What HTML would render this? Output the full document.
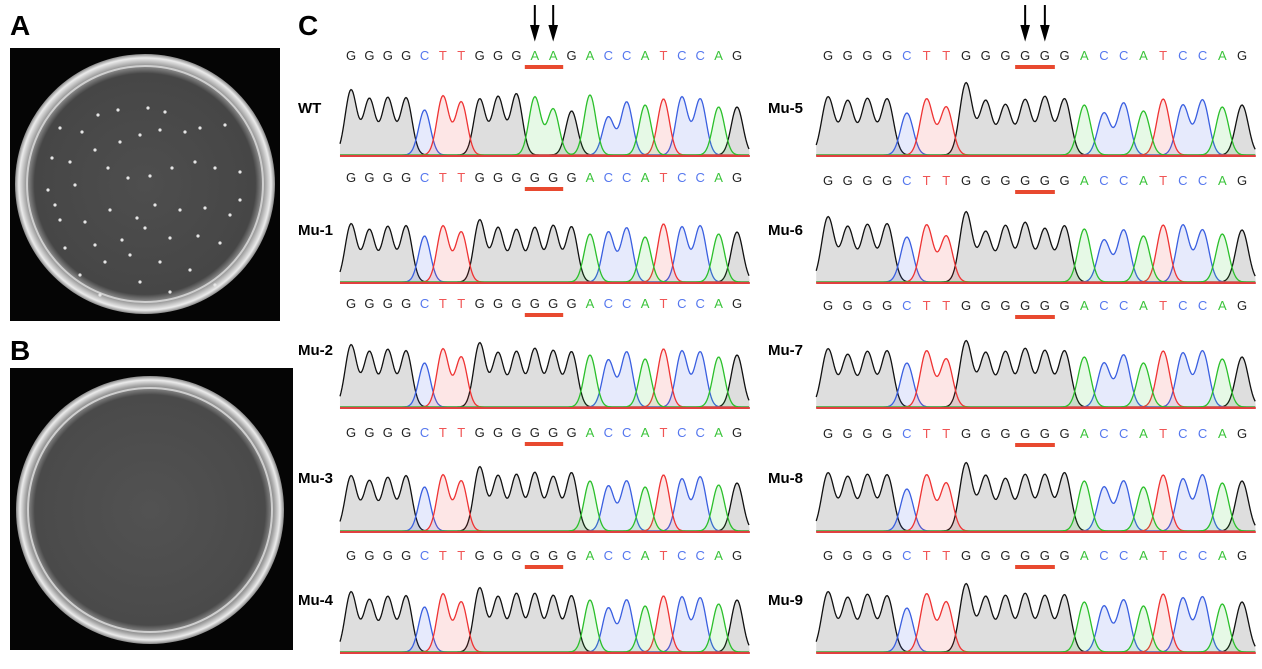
<!DOCTYPE html>
<html><head><meta charset="utf-8"><style>
body{margin:0;background:#fff;width:1262px;height:669px;overflow:hidden;font-family:"Liberation Sans",sans-serif}
svg{position:absolute;left:0;top:0}
</style></head><body>
<svg id="fig" width="1262" height="669" xmlns="http://www.w3.org/2000/svg">
<defs>
<radialGradient id="plateA" cx="50%" cy="50%" r="50%"><stop offset="0" stop-color="#4e4e4e"/><stop offset="0.85" stop-color="#464646"/><stop offset="0.92" stop-color="#a0a0a0"/><stop offset="0.97" stop-color="#ececec"/><stop offset="1" stop-color="#888"/></radialGradient>
<radialGradient id="plateB" cx="50%" cy="50%" r="50%"><stop offset="0" stop-color="#525252"/><stop offset="0.86" stop-color="#4a4a4a"/><stop offset="0.93" stop-color="#a0a0a0"/><stop offset="0.97" stop-color="#ececec"/><stop offset="1" stop-color="#888"/></radialGradient>
</defs>
<text x="10" y="35" font-size="28" font-weight="bold">A</text>
<text x="10" y="360" font-size="28" font-weight="bold">B</text>
<text x="298" y="35" font-size="28" font-weight="bold">C</text>
<g>
<rect x="10" y="48" width="270" height="273" fill="#050505"/>
<circle cx="145" cy="184" r="130" fill="url(#plateA)"/>
<circle cx="145" cy="184" r="118" fill="none" stroke="#cfcfcf" stroke-width="2"/>
<g id="dots" fill="#e6e6e6"></g>
</g>
<g>
<rect x="10" y="368" width="283" height="282" fill="#050505"/>
<circle cx="150" cy="510" r="134" fill="url(#plateB)"/>
<circle cx="150" cy="510" r="122" fill="none" stroke="#cfcfcf" stroke-width="2"/>
</g>
<g id="chroms"></g>
</svg>
<script>
const NS="http://www.w3.org/2000/svg";
const svg=document.getElementById('fig');
const wtSeq="GGGGCTTGGGAAGACCATCCAG";
const muSeq="GGGGCTTGGGGGGACCATCCAG";
const rowLabels=["WT","Mu-1","Mu-2","Mu-3","Mu-4","Mu-5","Mu-6","Mu-7","Mu-8","Mu-9"];
const hWT=[65,56,57,57,45,59,53,56,58,61,58,46,44,60,38,53,50,56,58,56,48,48];
const hMu1=[58,52,55,56,46,56,50,62,54,52,54,56,55,48,50,54,45,58,55,56,48,50];
const hMu2=[62,55,57,56,44,58,50,64,54,55,58,56,55,52,47,55,48,58,56,55,50,52];
const hMu3=[55,50,53,55,44,56,50,64,55,56,58,54,58,50,45,50,44,56,52,54,46,48];
const hMu4=[60,52,55,56,45,58,50,64,55,58,58,56,56,52,44,52,46,56,55,54,48,52];
const hMu5=[58,54,56,56,42,56,48,72,54,50,55,58,56,50,42,52,44,56,50,55,48,50];
const hMu6=[65,55,57,58,45,57,46,70,50,56,59,53,56,53,42,52,46,57,57,52,48,52];
const hMu7=[58,52,55,56,44,56,48,66,54,55,58,56,56,50,44,52,44,56,54,56,48,50];
const hMu8=[58,54,56,56,42,56,48,68,55,52,56,56,58,50,44,50,44,56,52,56,48,50];
const hMu9=[60,54,57,56,44,58,50,68,55,56,58,56,57,50,46,52,46,58,54,55,48,50];
const heights=[hWT,hMu1,hMu2,hMu3,hMu4,hMu5,hMu6,hMu7,hMu8,hMu9];
const seqY=[55,177,303,432,555,55,180,305,433,555];
const baseY=[155,282,407,531,652,155,282,407,531,652];
const labelY=[113,235,355,483,605,113,235,355,483,605];
const col={G:"#111",A:"#2bbf2b",C:"#3a5fe0",T:"#ee3333"};
const fillc={G:"rgba(0,0,0,0.13)",A:"rgba(60,210,60,0.13)",C:"rgba(60,90,230,0.13)",T:"rgba(240,60,60,0.13)"};
const txtc={G:"#222",A:"#3cc43c",C:"#5577ee",T:"#f05555"};
function el(t,a,p){const e=document.createElementNS(NS,t);for(const k in a)e.setAttribute(k,a[k]);(p||svg).appendChild(e);return e;}
const root=document.getElementById('chroms');
for(let r=0;r<10;r++){
  const right=r>=5;
  const x0=right?828:351, x1=right?1242:737;
  const dx=(x1-x0)/21;
  const seq=r==0?wtSeq:muSeq;
  const h=heights[r];
  const by=baseY[r];
  const g=el('g',{},root);
  
  
  const lab=el('text',{x:right?768:298,y:labelY[r],'font-size':15,'font-weight':'bold',fill:'#000'},g);
  
  
  lab.textContent=rowLabels[r];
  for(let i=0;i<seq.length;i++){
    const t=el('text',{x:x0+i*dx,y:seqY[r]+5,'font-size':13,'text-anchor':'middle','font-family':'Liberation Sans,sans-serif',fill:txtc[seq[i]]},g);
    
    
    t.textContent=seq[i];
  }
  const ul=el('rect',{x:x0+10*dx-10,y:seqY[r]+10,width:dx+20,height:4,fill:'#e8492f'},g);
  
  
  const sig=dx*0.32, xs=x0-dx*0.6, xe=x1+dx*0.7;
  ['G','C','T','A'].forEach(b=>{
    let pts=[];
    for(let x=xs;x<=xe;x+=1){
      let y=0;
      for(let i=0;i<seq.length;i++) if(seq[i]==b){const u=(x-(x0+i*dx))/sig;y+=h[i]*Math.exp(-0.5*u*u);}
      pts.push([x,by-Math.min(y,75)]);
    }
    const d="M"+pts.map(p=>p[0].toFixed(1)+","+p[1].toFixed(1)).join("L");
    const f=el('path',{d:d+"L"+xe+","+by+"L"+xs+","+by+"Z",fill:fillc[b],stroke:'none'},g);
    
    
    const p=el('path',{d:d,fill:'none',stroke:col[b],'stroke-width':1.3},g);
    
    
  });
  const bl=el('line',{x1:xs,y1:by+1,x2:xe,y2:by+1,stroke:'#e04040','stroke-width':2},g);
  
  
  if(r==0||r==5){
    [10,11].forEach(i=>{
      const ax=x0+i*dx;
      const a=el('path',{d:`M${ax},5L${ax},30M${ax-3.5},26L${ax},38L${ax+3.5},26Z`,stroke:'#000','stroke-width':2,fill:'#000'},g);
      
      
    });
  }
}
const dots=[[60,128],[82,132],[98,115],[118,110],[148,108],[165,112],[52,158],[70,162],[95,150],[120,142],[140,135],[160,130],[185,132],[200,128],[225,125],[48,190],[75,185],[108,168],[128,178],[150,176],[172,168],[195,162],[215,168],[240,172],[60,220],[85,222],[110,210],[137,218],[155,205],[180,210],[205,208],[230,215],[65,248],[95,245],[122,240],[145,228],[170,238],[198,236],[220,243],[80,275],[105,262],[130,255],[160,262],[190,270],[100,295],[140,282],[170,292],[215,285],[240,200],[55,205]];
const dg=document.getElementById('dots');
dots.forEach(p=>{const c=el('circle',{cx:p[0],cy:p[1],r:1.6},dg);});
</script>
</body></html>
